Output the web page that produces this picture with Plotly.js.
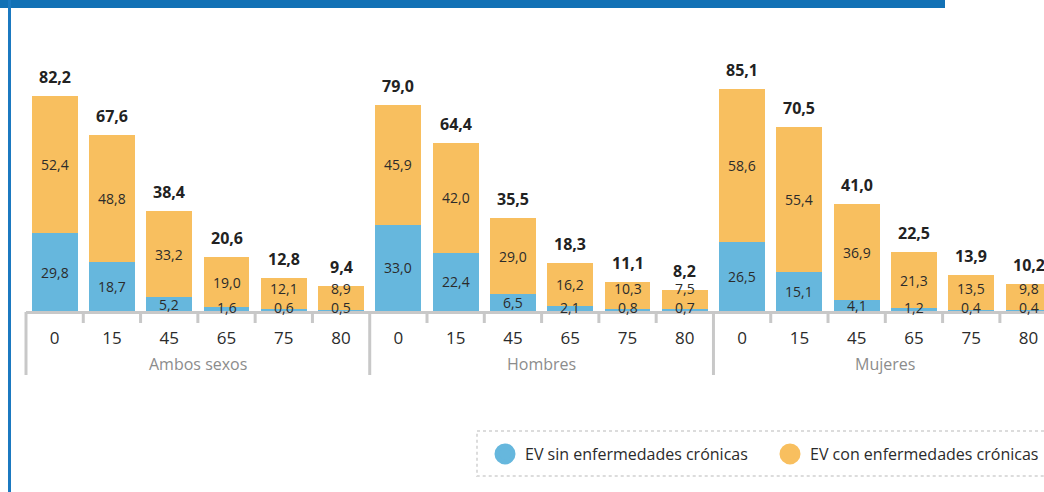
<!DOCTYPE html>
<html lang="es">
<head>
    <meta charset="UTF-8">
    <style>
        html, body {
            margin: 0;
            padding: 0;
            overflow: hidden;
            background: #ffffff;
        }
        #plot {
            width: 1044px;
            height: 492px;
        }
        .topbar {
            position: absolute;
            left: 0;
            top: 0;
            width: 945px;
            height: 8px;
            background: #1271b5;
        }
        .sidebar {
            position: absolute;
            left: 8px;
            top: 0;
            width: 3px;
            height: 492px;
            background: #1b79c0;
        }
    </style>
</head>
<body>
<div id="plot"></div>
<div class="topbar"></div>
<div class="sidebar"></div>
<script src="https://cdn.plot.ly/plotly-3.0.1.min.js"></script>
<script>
    // Esperanza de vida (años) por edad y sexo
    const groups = ['Ambos sexos', 'Hombres', 'Mujeres'];
    const ages = ['0', '15', '45', '65', '75', '80'];
    const sinCronicas = [29.8, 18.7, 5.2, 1.6, 0.6, 0.5,
                         33.0, 22.4, 6.5, 2.1, 0.8, 0.7,
                         26.5, 15.1, 4.1, 1.2, 0.4, 0.4];
    const conCronicas = [52.4, 48.8, 33.2, 19.0, 12.1, 8.9,
                         45.9, 42.0, 29.0, 16.2, 10.3, 7.5,
                         58.6, 55.4, 36.9, 21.3, 13.5, 9.8];
    const totales = [82.2, 67.6, 38.4, 20.6, 12.8, 9.4,
                     79.0, 64.4, 35.5, 18.3, 11.1, 8.2,
                     85.1, 70.5, 41.0, 22.5, 13.9, 10.2];

    const BLUE = '#66b7dd';
    const ORANGE = '#f8bf5f';
    const FONT = 'Open Sans, sans-serif';

    const XRANGE = [-0.5, 17.27];
    const toPaperX = v => (v - XRANGE[0]) / (XRANGE[1] - XRANGE[0]);

    function fmt(v) {
        return v.toFixed(1).replace('.', ',');
    }

    const idx = totales.map((_, i) => i);
    const tickText = groups.flatMap(() => ages);

    function barTrace(values, color) {
        return {
            x: idx,
            y: values,
            type: 'bar',
            marker: {color: color},
            width: 0.8,
            hoverinfo: 'skip',
            showlegend: false
        };
    }

    const traceSin = barTrace(sinCronicas, BLUE);
    const traceCon = barTrace(conCronicas, ORANGE);

    // legend entries drawn as circles, one legend box each
    const legSin = {
        x: [null], y: [null], type: 'scatter', mode: 'markers',
        name: 'EV sin enfermedades crónicas',
        legend: 'legend',
        marker: {color: BLUE, size: 16, symbol: 'circle', line: {color: BLUE, width: 5}}
    };
    const legCon = {
        x: [null], y: [null], type: 'scatter', mode: 'markers',
        name: 'EV con enfermedades crónicas',
        legend: 'legend2',
        marker: {color: ORANGE, size: 16, symbol: 'circle', line: {color: ORANGE, width: 5}}
    };

    const annotations = [];
    const segFont = {family: FONT, size: 14, color: '#2b2b2b'};
    totales.forEach((t, i) => {
        // segment labels; small segments keep their label readable above the axis
        const ySin = Math.max(sinCronicas[i] / 2, 1.5);
        const yCon = Math.max(sinCronicas[i] + conCronicas[i] / 2, ySin + 7);
        annotations.push({
            x: i, y: ySin, xref: 'x', yref: 'y',
            text: fmt(sinCronicas[i]), showarrow: false,
            yanchor: 'middle', font: segFont
        });
        annotations.push({
            x: i, y: yCon, xref: 'x', yref: 'y',
            text: fmt(conCronicas[i]), showarrow: false,
            yanchor: 'middle', font: segFont
        });
        // totals above each bar
        annotations.push({
            x: i, y: sinCronicas[i] + conCronicas[i],
            xref: 'x', yref: 'y',
            text: '<b>' + fmt(t) + '</b>',
            showarrow: false,
            yanchor: 'bottom',
            yshift: 6,
            font: {family: FONT, size: 16, color: '#222222'}
        });
    });
    // group labels under the age ticks
    groups.forEach((g, k) => {
        annotations.push({
            x: k * ages.length + (ages.length - 1) / 2, y: 0,
            xref: 'x', yref: 'paper',
            text: g,
            showarrow: false,
            yanchor: 'middle',
            yshift: -53,
            font: {family: FONT, size: 16, color: '#8c8c8c'}
        });
    });

    const shapes = [];
    // dividers between groups and small ticks between categories
    idx.forEach(i => {
        const first = i % ages.length === 0;
        const px = toPaperX(i - 0.5);
        shapes.push({
            type: 'line',
            xref: 'paper', yref: 'paper',
            x0: px, x1: px,
            ysizemode: 'pixel', yanchor: 0,
            y0: -1, y1: first ? -64 : -12,
            line: {color: '#c8c8c8', width: 3}
        });
    });
    // dotted frame around the legend
    shapes.push({
        type: 'rect',
        xref: 'paper', yref: 'paper',
        x0: (477 - 26) / 1018, x1: 1.05,
        y0: -0.46, y1: -0.632,
        line: {color: '#dcdcdc', width: 2, dash: 'dot'}
    });

    const legendBase = {
        orientation: 'h',
        y: -0.548,
        yanchor: 'middle',
        bgcolor: 'rgba(0,0,0,0)',
        font: {family: FONT, size: 16, color: '#2b2b2b'}
    };

    const layout = {
        width: 1044,
        height: 492,
        margin: {l: 26, r: 0, t: 50, b: 181, pad: 0},
        paper_bgcolor: '#ffffff',
        plot_bgcolor: '#ffffff',
        barmode: 'stack',
        font: {family: FONT, color: '#2b2b2b'},
        xaxis: {
            range: XRANGE,
            tickmode: 'array',
            tickvals: idx,
            ticktext: tickText,
            ticks: '',
            ticklabelstandoff: 10,
            tickfont: {family: FONT, size: 17, color: '#2b2b2b'},
            showgrid: false,
            zeroline: false,
            showline: true,
            linecolor: '#c8c8c8',
            linewidth: 3,
            fixedrange: true
        },
        yaxis: {
            range: [0, 100],
            visible: false,
            showgrid: false,
            zeroline: false,
            fixedrange: true
        },
        showlegend: true,
        legend: Object.assign({}, legendBase, {x: (485 - 26) / 1018, xanchor: 'left'}),
        legend2: Object.assign({}, legendBase, {x: 1, xanchor: 'right'}),
        annotations: annotations,
        shapes: shapes
    };

    Plotly.newPlot('plot', [traceSin, traceCon, legSin, legCon], layout, {displayModeBar: false, staticPlot: true});
</script>
</body>
</html>
